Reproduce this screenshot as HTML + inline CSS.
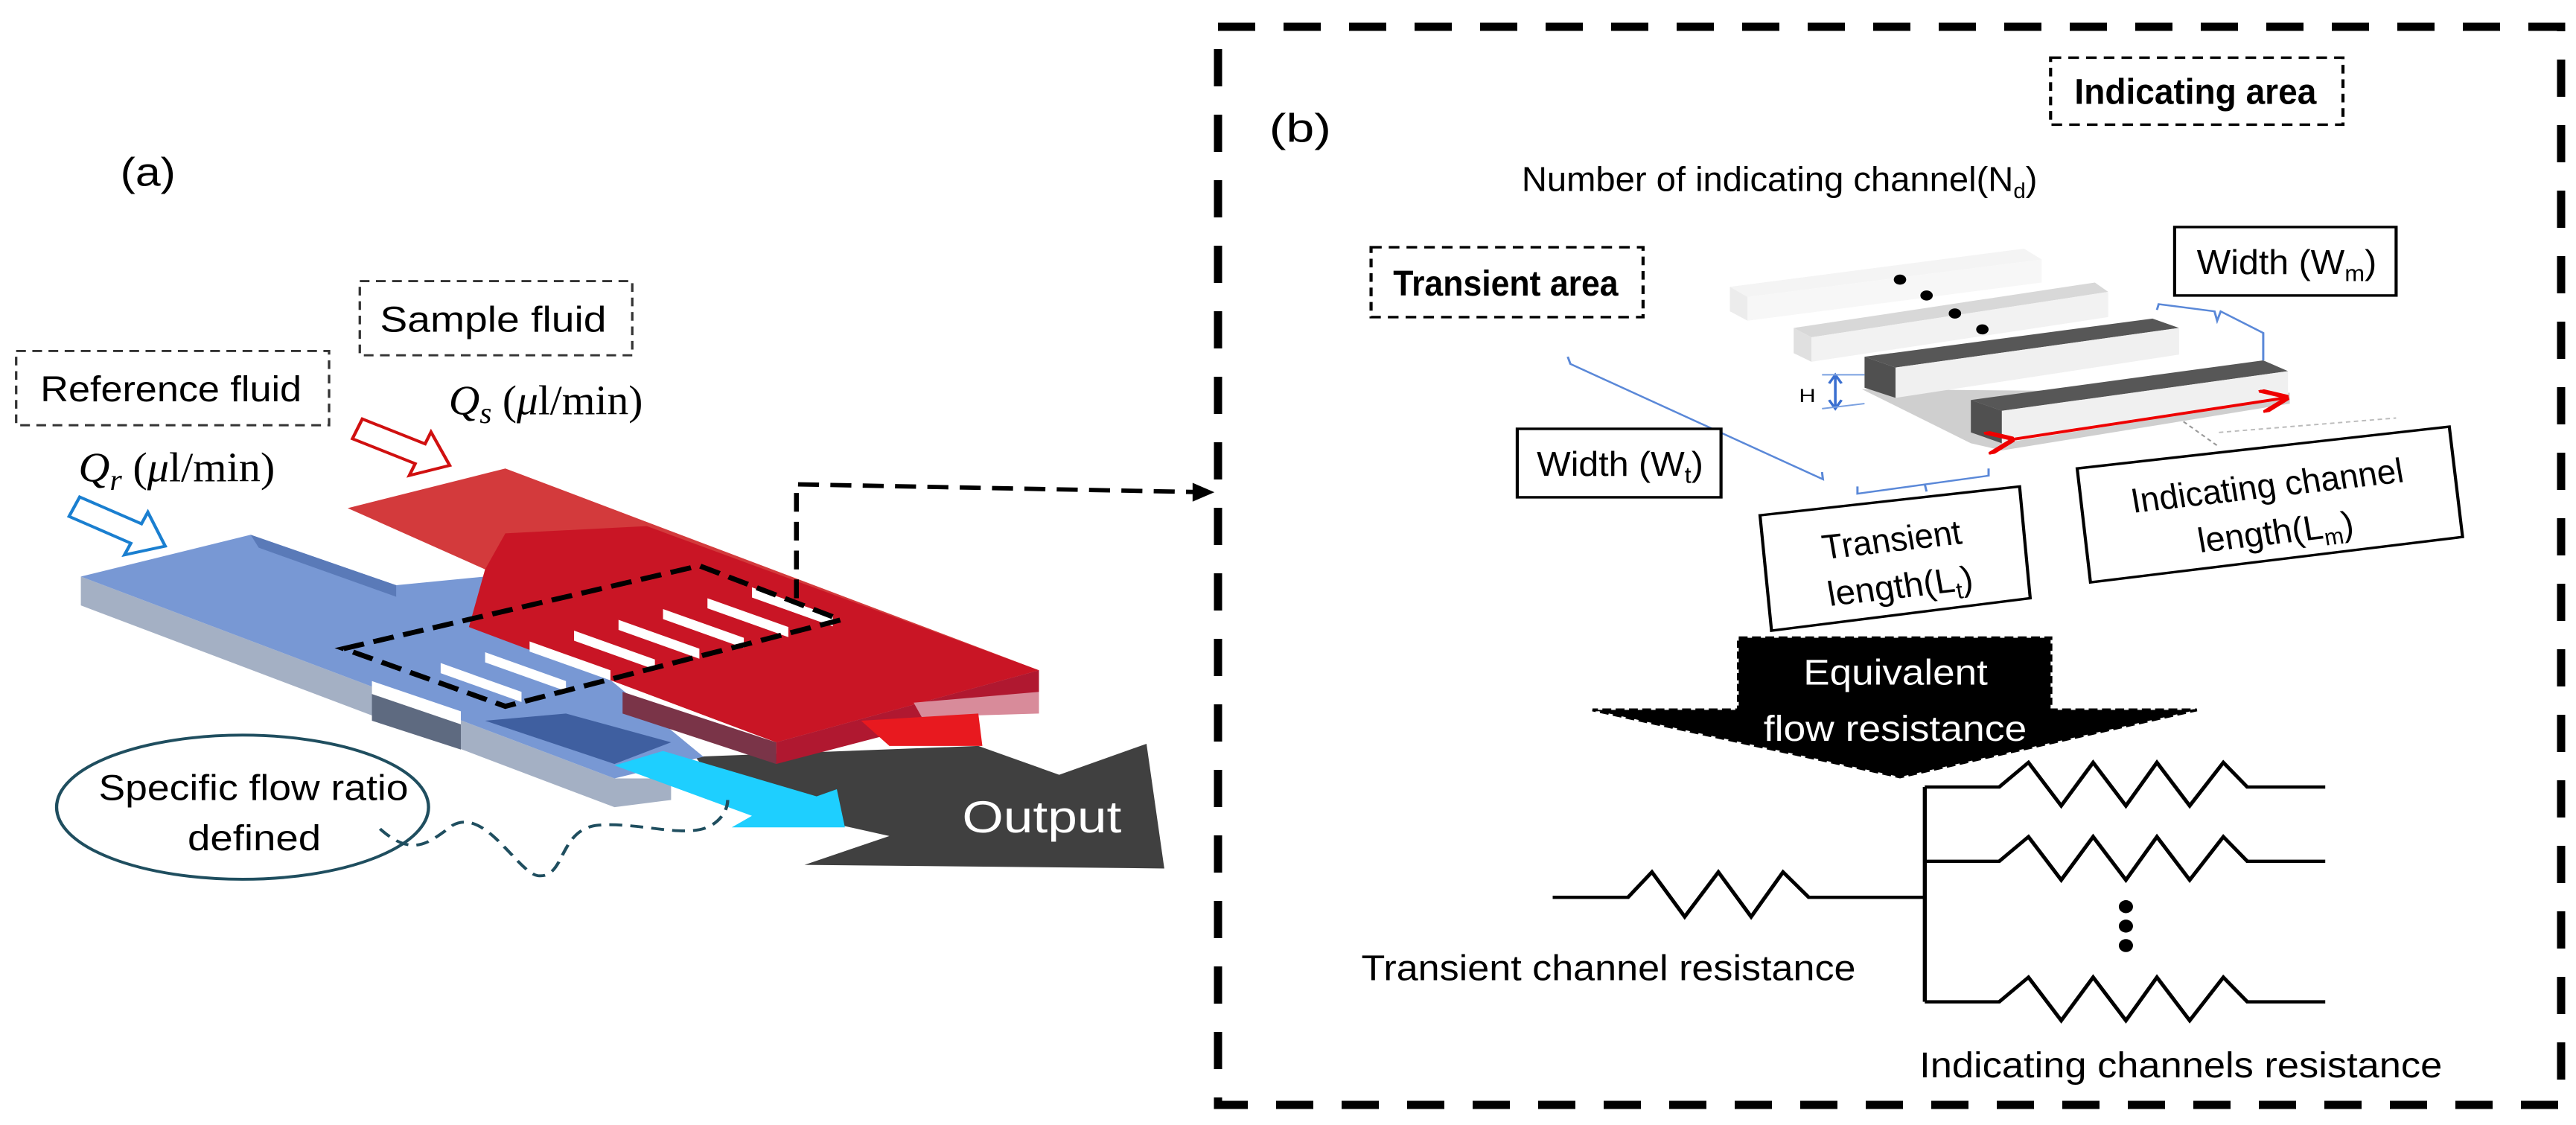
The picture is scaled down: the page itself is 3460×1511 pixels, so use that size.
<!DOCTYPE html>
<html><head><meta charset="utf-8"><style>
html,body{margin:0;padding:0;background:#fff}
svg{display:block}
text{font-family:"Liberation Sans",sans-serif}
.serif{font-family:"Liberation Serif",serif}
</style></head><body>
<svg width="3460" height="1511" viewBox="0 0 3460 1511" xmlns="http://www.w3.org/2000/svg">
<defs>
<marker id="ra" markerWidth="8" markerHeight="8" refX="7" refY="4" orient="auto"><path d="M0,0 L8,4 L0,8" fill="none" stroke="#e00" stroke-width="1.5"/></marker>
</defs>
<rect x="1636" y="36" width="1804" height="1448" fill="none" stroke="#000" stroke-width="11" stroke-dasharray="50 38"/>

<!-- Panel A -->
<g transform="scale(1.086,0.968)">
<text x="183" y="258" font-size="56" text-anchor="middle">(a)</text>
<rect x="445" y="390" width="337" height="103" fill="none" stroke="#333" stroke-width="3" stroke-dasharray="12 8"/>
<text x="470" y="460" font-size="50" textLength="280" lengthAdjust="spacingAndGlyphs">Sample  fluid</text>
<rect x="20" y="487" width="387" height="103" fill="none" stroke="#333" stroke-width="3" stroke-dasharray="12 8"/>
<text x="50" y="557" font-size="50" textLength="323" lengthAdjust="spacingAndGlyphs">Reference fluid</text>
<text x="555" y="575" font-size="58" class="serif" textLength="240" lengthAdjust="spacingAndGlyphs"><tspan font-style="italic">Q</tspan><tspan font-style="italic" font-size="42" dy="12">s</tspan><tspan dy="-12"> (</tspan><tspan font-style="italic">μ</tspan><tspan>l/min)</tspan></text>
<text x="97" y="668" font-size="58" class="serif" textLength="243" lengthAdjust="spacingAndGlyphs"><tspan font-style="italic">Q</tspan><tspan font-style="italic" font-size="42" dy="12">r</tspan><tspan dy="-12"> (</tspan><tspan font-style="italic">μ</tspan><tspan>l/min)</tspan></text>
<g transform="translate(442,595) rotate(24)"><path d="M0,-15 L85,-15 L85,-33 L125,0 L85,33 L85,15 L0,15 z" fill="#fff" stroke="#d01010" stroke-width="4"/></g>
<g transform="translate(92,703) rotate(26)"><path d="M0,-15 L85,-15 L85,-33 L125,0 L85,33 L85,15 L0,15 z" fill="#fff" stroke="#1a7fd0" stroke-width="4"/></g>
<path d="M860,1050 L1210,1035 L1310,1075 L1418,1032 L1440,1205 L995,1200 L1100,1160 L900,1110 z" fill="#404040"/>
<text x="1190" y="1155" font-size="62" fill="#fff" textLength="197" lengthAdjust="spacingAndGlyphs">Output</text>
<path d="M100,800 L100,840 L760,1120 L830,1110 L830,1080 L760,1080 z" fill="#a4b0c4"/>
<path d="M100,800 L310,742 L490,812 L600,800 L870,1050 L760,1080 z" fill="#7898d4"/>
<path d="M310,742 L320,760 L490,828 L490,812 z" fill="#5a7ab8"/>
<path d="M460,950 L570,990 L570,1040 L460,1000 z" fill="#5e6a80"/>
<path d="M600,1000 L760,1060 L830,1030 L700,990 z" fill="#3f5fa0"/>
<path d="M430,705 L625,650 L1285,930 L960,1030 L580,870 L600,790 z" fill="#d33a3c"/>
<path d="M600,790 L625,740 L800,730 L1285,930 L960,1030 L580,870 z" fill="#c81222" opacity="0.9"/>
<path d="M960,1030 L1285,930 L1285,965 L960,1060 z" fill="#b01830"/>
<path d="M770,960 L960,1030 L960,1060 L770,990 z" fill="#7a3448"/>
<path d="M1130,975 L1285,960 L1285,990 L1140,995 z" fill="#d88b9a"/>
<g fill="#fff">
<path d="M545,920 l100,40 l0,14 l-100,-40 z"/>
<path d="M600,905 l100,40 l0,14 l-100,-40 z"/>
<path d="M655,890 l100,40 l0,14 l-100,-40 z"/>
<path d="M710,875 l100,40 l0,14 l-100,-40 z"/>
<path d="M765,860 l100,40 l0,14 l-100,-40 z"/>
<path d="M820,845 l100,40 l0,14 l-100,-40 z"/>
<path d="M875,830 l100,40 l0,14 l-100,-40 z"/>
<path d="M930,815 l100,40 l0,14 l-100,-40 z"/>
<path d="M460,945 l110,42 l0,18 l-110,-42 z"/>
</g>
<path d="M1065,1000 L1210,990 L1215,1035 L1100,1035 z" fill="#e8191f"/>
<path d="M760,1062 L820,1042 L1010,1105 L1035,1095 L1045,1148 L905,1148 L930,1132 z" fill="#1ecfff"/>
<path d="M425,900 L865,785 L1040,860 L625,980 z" fill="none" stroke="#000" stroke-width="7" stroke-dasharray="26 12"/>
<path d="M985,830 L985,672 L1495,683" fill="none" stroke="#000" stroke-width="6" stroke-dasharray="26 14"/>
<path d="M1475,670 L1502,683 L1475,696 z" fill="#000"/>
<ellipse cx="300" cy="1120" rx="230" ry="100" fill="#fff" stroke="#1f4e5f" stroke-width="4"/>
<text x="122" y="1110" font-size="50" textLength="383" lengthAdjust="spacingAndGlyphs">Specific flow ratio</text>
<text x="232" y="1180" font-size="50" textLength="165" lengthAdjust="spacingAndGlyphs">defined</text>
<path d="M470,1150 C510,1190 530,1170 560,1145 C600,1120 640,1210 665,1215 C700,1220 690,1150 740,1145 C790,1140 850,1165 880,1145 C895,1135 900,1120 900,1110" fill="none" stroke="#1f4e5f" stroke-width="4" stroke-dasharray="16 10"/>
</g>

<!-- Panel B -->
<g transform="translate(1600,0) scale(1.19,0.968)">
<text x="88" y="197" font-size="56" textLength="70" lengthAdjust="spacingAndGlyphs">(b)</text>
<rect x="970" y="80" width="330" height="93" fill="none" stroke="#000" stroke-width="3.5" stroke-dasharray="12 8"/>
<text x="997" y="144" font-size="50" font-weight="bold" textLength="273" lengthAdjust="spacingAndGlyphs">Indicating  area</text>
<text x="373" y="265" font-size="48" textLength="582" lengthAdjust="spacingAndGlyphs">Number of indicating channel(N<tspan font-size="30" dy="10">d</tspan><tspan dy="-10">)</tspan></text>
<rect x="203" y="343" width="307" height="97" fill="none" stroke="#000" stroke-width="3.5" stroke-dasharray="12 8"/>
<text x="228" y="410" font-size="50" font-weight="bold" textLength="254" lengthAdjust="spacingAndGlyphs">Transient area</text>
<path d="M608,398 L940,345 L960,360 L628,412 z" fill="#f4f4f4"/>
<path d="M608,398 L628,412 L628,445 L608,432 z" fill="#ececec"/>
<path d="M628,412 L960,360 L960,392 L628,445 z" fill="#f7f7f7"/>
<path d="M680,455 L1020,392 L1035,405 L700,468 z" fill="#d8d8d8"/>
<path d="M680,455 L700,468 L700,502 L680,490 z" fill="#e0e0e0"/>
<path d="M700,468 L1035,405 L1035,440 L700,502 z" fill="#f2f2f2"/>
<path d="M757,540 L1240,545 L1240,560 L915,625 L880,615 z" fill="#cfcfcf"/>
<path d="M760,495 L1085,442 L1115,455 L795,510 z" fill="#575757"/>
<path d="M760,495 L795,510 L795,552 L760,538 z" fill="#505050"/>
<path d="M795,510 L1115,455 L1115,492 L795,552 z" fill="#f0f0f0"/>
<path d="M880,555 L1210,500 L1238,515 L915,570 z" fill="#575757"/>
<path d="M880,555 L915,570 L915,615 L880,600 z" fill="#505050"/>
<path d="M915,570 L1238,515 L1238,552 L915,615 z" fill="#f0f0f0"/>
<g fill="#000"><circle cx="800" cy="388" r="7"/><circle cx="830" cy="410" r="7"/><circle cx="862" cy="435" r="7"/><circle cx="893" cy="457" r="7"/></g>
<line x1="925" y1="610" x2="1235" y2="552" stroke="#e00" stroke-width="4" marker-end="url(#ra)" marker-start="url(#ra)"/>
<text x="686" y="558" font-size="26">H</text>
<line x1="727" y1="522" x2="727" y2="565" stroke="#3a6fd0" stroke-width="3"/>
<path d="M720,532 L727,520 L734,532 M720,555 L727,567 L734,555" fill="none" stroke="#3a6fd0" stroke-width="3"/>
<path d="M712,520 L760,520 M712,567 L760,560" stroke="#7aa0e0" stroke-width="2"/>
<g fill="none" stroke="#5a88d8" stroke-width="2.5">
<path d="M425,495 L428,505 L713,665 L712,655"/>
<path d="M752,675 L752,685 L900,660 L900,650 M828,672 L830,682"/>
<path d="M1090,430 L1092,422 L1155,432 L1158,445 L1162,432 L1210,462 L1210,500"/>
</g>
<line x1="1120" y1="585" x2="1160" y2="620" stroke="#999" stroke-width="2" stroke-dasharray="5 4"/>
<line x1="1160" y1="600" x2="1360" y2="580" stroke="#bbb" stroke-width="2" stroke-dasharray="5 4"/>
<rect x="1110" y="315" width="250" height="95" fill="#fff" stroke="#000" stroke-width="3.5"/>
<text x="1135" y="380" font-size="48" textLength="203" lengthAdjust="spacingAndGlyphs">Width (W<tspan font-size="32" dy="10">m</tspan><tspan dy="-10">)</tspan></text>
<rect x="368" y="595" width="230" height="95" fill="#fff" stroke="#000" stroke-width="3.5"/>
<text x="390" y="660" font-size="48" textLength="188" lengthAdjust="spacingAndGlyphs">Width (W<tspan font-size="32" dy="10">t</tspan><tspan dy="-10">)</tspan></text>
<path d="M642,715 L935,675 L947,830 L655,875 z" fill="#fff" stroke="#000" stroke-width="3.5"/>
<g transform="rotate(-8 795 780)">
<text x="716" y="765" font-size="48" textLength="158" lengthAdjust="spacingAndGlyphs">Transient</text>
<text x="713" y="830" font-size="48" textLength="165" lengthAdjust="spacingAndGlyphs">length(L<tspan font-size="32" dy="10">t</tspan><tspan dy="-10">)</tspan></text>
</g>
<path d="M1000,650 L1420,592 L1435,745 L1015,808 z" fill="#fff" stroke="#000" stroke-width="3.5"/>
<g transform="rotate(-8 1218 700)">
<text x="1063" y="690" font-size="48" textLength="310" lengthAdjust="spacingAndGlyphs">Indicating channel</text>
<text x="1130" y="755" font-size="48" textLength="177" lengthAdjust="spacingAndGlyphs">length(L<tspan font-size="32" dy="10">m</tspan><tspan dy="-10">)</tspan></text>
</g>
<path d="M618,885 L970,885 L970,985 L1135,985 L800,1078 L453,985 L618,985 z" fill="#000" stroke="#000" stroke-width="4" stroke-dasharray="10 5"/>
<text x="691" y="950" font-size="50" fill="#fff" textLength="208" lengthAdjust="spacingAndGlyphs">Equivalent</text>
<text x="646" y="1028" font-size="50" fill="#fff" textLength="297" lengthAdjust="spacingAndGlyphs">flow resistance</text>
<g fill="none" stroke="#000" stroke-width="4.5">
<path d="M408,1245 L493,1245 L520,1210 L557,1272 L595,1210 L632,1272 L668,1210 L697,1245 L830,1245"/>
<path d="M828,1092 L828,1390"/>
<path d="M828,1092 L912,1092 L945,1058 L982,1118 L1018,1058 L1055,1118 L1090,1058 L1127,1118 L1165,1058 L1192,1092 L1280,1092"/>
<path d="M828,1195 L912,1195 L945,1161 L982,1221 L1018,1161 L1055,1221 L1090,1161 L1127,1221 L1165,1161 L1192,1195 L1280,1195"/>
<path d="M828,1390 L912,1390 L945,1356 L982,1416 L1018,1356 L1055,1416 L1090,1356 L1127,1416 L1165,1356 L1192,1390 L1280,1390"/>
</g>
<g fill="#000"><ellipse cx="1055" cy="1258" rx="8" ry="9"/><ellipse cx="1055" cy="1285" rx="8" ry="9"/><ellipse cx="1055" cy="1312" rx="8" ry="9"/></g>
<text x="192" y="1360" font-size="50" textLength="558" lengthAdjust="spacingAndGlyphs">Transient channel resistance</text>
<text x="822" y="1495" font-size="50" textLength="590" lengthAdjust="spacingAndGlyphs">Indicating channels resistance</text>
</g>
</svg>
</body></html>
